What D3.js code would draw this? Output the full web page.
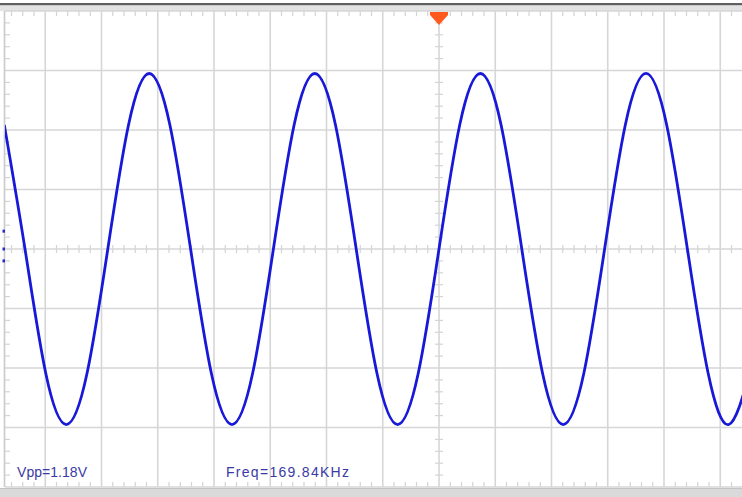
<!DOCTYPE html>
<html>
<head>
<meta charset="utf-8">
<script src="https://cdn.jsdelivr.net/npm/d3@7/dist/d3.min.js"></script>
<style>
  html, body { margin: 0; padding: 0; background: #ffffff; }
  svg { display: block; }
</style>
</head>
<body>
<svg id="scope" width="742" height="497"></svg>
<script>
// Channel 1 trace samples: time (µs, trigger at 0) and voltage (V)
const sampleTimes = [
  -15.456, -14.720, -13.984, -13.248, -12.512, -11.776, -11.040, -10.304,
  -9.568, -8.832, -8.096, -7.360, -6.624, -5.888, -5.152, -4.416,
  -3.680, -2.944, -2.208, -1.472, -0.736, 0.000, 0.736, 1.472,
  2.208, 2.944, 3.680, 4.416, 5.152, 5.888, 6.624, 7.360,
  8.096, 8.832, 9.568, 10.304, 11.040
];
const sampleVolts = [
  0.417, 0.000, -0.417, -0.590, -0.417, 0.000, 0.417, 0.590,
  0.417, 0.000, -0.417, -0.590, -0.417, 0.000, 0.417, 0.590,
  0.417, 0.000, -0.417, -0.590, -0.417, 0.000, 0.417, 0.590,
  0.417, 0.000, -0.417, -0.590, -0.417, 0.000, 0.417, 0.590,
  0.417, 0.000, -0.417, -0.590, -0.417
];

// Measurement readouts
const readoutLabels = ["Vpp=1.18V", "Freq=169.84KHz"];

// Scope settings
const timePerDiv = 2;     // µs / div
const voltsPerDiv = 0.2;  // V / div
const vDivs = 4;          // divisions above / below centre

const svg = d3.select("#scope");
const W = 742, H = 497;

// Screen geometry
const plot = { left: 5, right: 742, top: 11, bottom: 487 };
const centerX = 439;
const pxPerDiv = 56.25;

const x = d3.scaleLinear()
  .domain([(plot.left - centerX) / pxPerDiv * timePerDiv, (plot.right - centerX) / pxPerDiv * timePerDiv])
  .range([plot.left, plot.right]);
const y = d3.scaleLinear()
  .domain([-vDivs * voltsPerDiv, vDivs * voltsPerDiv])
  .range([plot.bottom, plot.top]);

// Frame: dark top rule and light bezel bands
svg.append("rect").attr("x", 0).attr("y", 3).attr("width", W).attr("height", 2.5).attr("fill", "#5f5f5f");
svg.append("rect").attr("x", 0).attr("y", 5.5).attr("width", W).attr("height", plot.top - 5.5).attr("fill", "#e3e3e3");
svg.append("rect").attr("x", 0).attr("y", plot.bottom + 1).attr("width", W).attr("height", H - plot.bottom - 1).attr("fill", "#dadada");
svg.append("rect").attr("x", 0).attr("y", plot.bottom + 1).attr("width", W).attr("height", 1).attr("fill", "#c4c4c4");

const grid = svg.append("g").attr("class", "grid");
const gridColor = "#d6d6d6";
const tickColor = "#d4d4d4";

// Major graticule
const tMin = x.domain()[0], tMax = x.domain()[1];
const gridTimes = d3.range(Math.ceil(tMin / timePerDiv) * timePerDiv, tMax + 1e-9, timePerDiv);
const gridVolts = d3.range(-vDivs, vDivs + 1).map(d => d * voltsPerDiv);

grid.selectAll("line.vx").data(gridTimes).join("line")
  .attr("x1", d => x(d)).attr("x2", d => x(d))
  .attr("y1", plot.top).attr("y2", plot.bottom)
  .attr("stroke", gridColor).attr("stroke-width", 1.6);
grid.selectAll("line.hy").data(gridVolts).join("line")
  .attr("x1", plot.left).attr("x2", plot.right)
  .attr("y1", d => y(d)).attr("y2", d => y(d))
  .attr("stroke", gridColor).attr("stroke-width", 1.6);

// Left screen edge
grid.append("line")
  .attr("x1", plot.left - 0.5).attr("x2", plot.left - 0.5)
  .attr("y1", plot.top).attr("y2", plot.bottom)
  .attr("stroke", "#cacaca").attr("stroke-width", 1.6);

// Minor ticks (5 per division)
const minorTimes = d3.range(Math.ceil(tMin / (timePerDiv / 5)), Math.floor(tMax / (timePerDiv / 5)) + 1)
  .map(i => i * timePerDiv / 5).filter(t => Math.abs(t / timePerDiv - Math.round(t / timePerDiv)) > 1e-6);
const minorVolts = d3.range(-vDivs * 5, vDivs * 5 + 1)
  .map(i => i * voltsPerDiv / 5).filter(v => Math.abs(v / voltsPerDiv - Math.round(v / voltsPerDiv)) > 1e-6);

function hTicks(cls, y0, y1) {
  grid.selectAll("line." + cls).data(minorTimes).join("line").attr("class", cls)
    .attr("x1", d => x(d)).attr("x2", d => x(d))
    .attr("y1", y0).attr("y2", y1)
    .attr("stroke", tickColor).attr("stroke-width", 1.2);
}
function vTicks(cls, x0, x1) {
  grid.selectAll("line." + cls).data(minorVolts).join("line").attr("class", cls)
    .attr("x1", x0).attr("x2", x1)
    .attr("y1", d => y(d)).attr("y2", d => y(d))
    .attr("stroke", tickColor).attr("stroke-width", 1.2);
}
hTicks("tt", plot.top, plot.top + 5);
hTicks("tb", plot.bottom - 5, plot.bottom);
hTicks("tc", y(0) - 4, y(0) + 4);
vTicks("vl", plot.left, plot.left + 5);
vTicks("vc", x(0) - 4, x(0) + 4);

// Trigger position marker
svg.append("path")
  .attr("d", `M${x(0) - 9},${plot.top + 1} L${x(0) + 9},${plot.top + 1} L${x(0) + 9},${plot.top + 4} L${x(0)},${plot.top + 14} L${x(0) - 9},${plot.top + 4} Z`)
  .attr("fill", "#ff5a1e");

// Channel ground marker at left edge
svg.append("g").selectAll("rect")
  .data([0.06, 0, -0.04])
  .join("rect")
  .attr("x", 2.5).attr("y", d => y(d) - 1.5)
  .attr("width", 2.5).attr("height", 3)
  .attr("fill", "#2a2ad0");

// Trace
svg.append("clipPath").attr("id", "screen")
  .append("rect").attr("x", plot.left).attr("y", plot.top)
  .attr("width", plot.right - plot.left).attr("height", plot.bottom - plot.top);

const trace = sampleTimes.map((t, i) => [t, sampleVolts[i]]);
const line = d3.line()
  .x(d => x(d[0]))
  .y(d => y(d[1]))
  .curve(d3.curveNatural);

svg.append("path")
  .attr("clip-path", "url(#screen)")
  .attr("d", line(trace))
  .attr("fill", "none")
  .attr("stroke", "#1818d8")
  .attr("stroke-width", 2.8)
  .attr("stroke-linejoin", "round");

// Measurement readouts
const readouts = svg.append("g")
  .attr("font-family", "'Liberation Sans', Arial, sans-serif")
  .attr("font-size", 14)
  .attr("fill", "#3a3aa6");
readouts.append("text").attr("x", 17).attr("y", 477)
  .attr("textLength", 70).attr("lengthAdjust", "spacing")
  .text(readoutLabels[0]);
readouts.append("text").attr("x", 226).attr("y", 477)
  .attr("textLength", 123).attr("lengthAdjust", "spacing")
  .text(readoutLabels[1]);
</script>
</body>
</html>
